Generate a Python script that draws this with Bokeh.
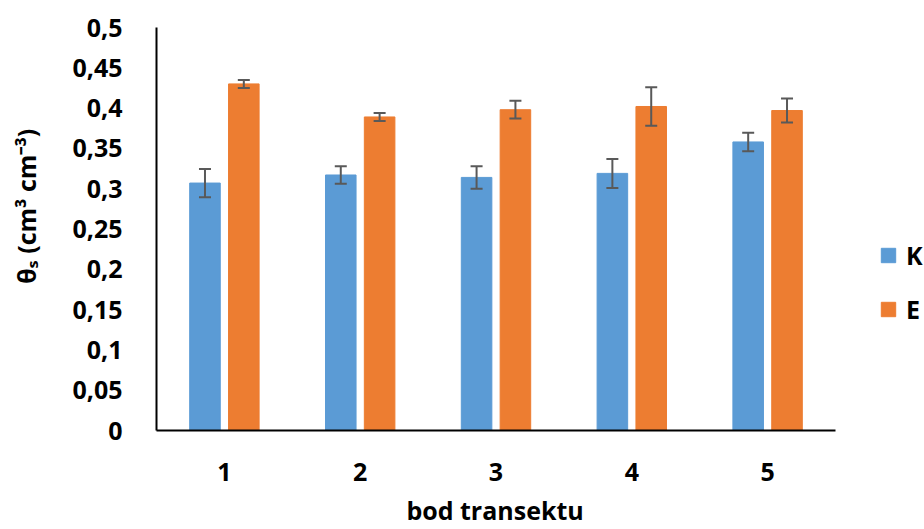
from bokeh.plotting import figure
from bokeh.models import (ColumnDataSource, Range1d, Whisker, TeeHead, Legend,
                          LegendItem, FixedTicker)
from bokeh.transform import dodge
from bokeh.embed import file_html
from bokeh.resources import INLINE

# ---- data ----
categories = ["1", "2", "3", "4", "5"]
series_names = ["K", "E"]
k_values = [0.307, 0.317, 0.314, 0.319, 0.358]
k_errors = [0.0175, 0.011, 0.014, 0.018, 0.0115]
e_values = [0.430, 0.389, 0.398, 0.402, 0.397]
e_errors = [0.005, 0.005, 0.011, 0.024, 0.015]
y_ticks = [0, 0.05, 0.1, 0.15, 0.2, 0.25, 0.3, 0.35, 0.4, 0.45, 0.5]
y_tick_labels = ["0", "0,05", "0,1", "0,15", "0,2", "0,25", "0,3", "0,35", "0,4", "0,45", "0,5"]
x_title = "bod transektu"
y_title = "θₛ (cm³ cm⁻³)"

K_COLOR = "#5B9BD5"
E_COLOR = "#ED7D31"
ERR_COLOR = "#595959"
FONT = "Open Sans"
FS = "25px"

positions = list(range(1, len(categories) + 1))
src = ColumnDataSource(dict(
    pos=positions,
    k=k_values,
    k_lo=[v - e for v, e in zip(k_values, k_errors)],
    k_hi=[v + e for v, e in zip(k_values, k_errors)],
    e=e_values,
    e_lo=[v - e for v, e in zip(e_values, e_errors)],
    e_hi=[v + e for v, e in zip(e_values, e_errors)],
))

# layout: frame from x=156 to canvas edge; categories occupy 135.8 px each
LEFT, TOP, BOTTOM = 156, 27, 99
W_FIG, H_FIG = 924, 529
CAT_PX = 135.8
frame_w = W_FIG - LEFT
x_start = 0.5
x_end = x_start + frame_w / CAT_PX

p = figure(x_range=Range1d(x_start, x_end), y_range=Range1d(0, 0.5),
           width=W_FIG, height=H_FIG, output_backend="svg", toolbar_location=None,
           min_border_left=LEFT, min_border_right=0, min_border_top=TOP,
           min_border_bottom=BOTTOM)
p.outline_line_color = None
p.xgrid.grid_line_color = None
p.ygrid.grid_line_color = None
p.background_fill_color = "white"
p.border_fill_color = "white"

OFF = 0.143
W = 0.225
rk = p.vbar(x=dodge("pos", -OFF), top="k", width=W, source=src,
            fill_color=K_COLOR, line_color=K_COLOR)
re_ = p.vbar(x=dodge("pos", OFF), top="e", width=W, source=src,
             fill_color=E_COLOR, line_color=E_COLOR)

for off, lo, hi in [(-OFF, "k_lo", "k_hi"), (OFF, "e_lo", "e_hi")]:
    w = Whisker(base=dodge("pos", off), lower=lo, upper=hi, source=src,
                line_color=ERR_COLOR, line_width=2, level="overlay",
                upper_head=TeeHead(size=12, line_color=ERR_COLOR, line_width=2),
                lower_head=TeeHead(size=12, line_color=ERR_COLOR, line_width=2))
    p.add_layout(w)

# axes
p.yaxis.ticker = FixedTicker(ticks=y_ticks)
p.yaxis.major_label_overrides = dict(zip(y_ticks, y_tick_labels))
p.xaxis.ticker = FixedTicker(ticks=positions)
p.xaxis.major_label_overrides = dict(zip(positions, categories))
p.xaxis.bounds = (x_start, len(categories) + 0.5)
for ax in (p.xaxis, p.yaxis):
    ax.axis_line_color = "black"
    ax.axis_line_width = 2
    ax.major_tick_line_color = None
    ax.minor_tick_line_color = None
    ax.major_label_text_font = FONT
    ax.major_label_text_font_style = "bold"
    ax.major_label_text_font_size = FS
    ax.major_label_text_color = "black"
    ax.axis_label_text_font = FONT
    ax.axis_label_text_font_style = "bold"
    ax.axis_label_text_font_size = FS
    ax.axis_label_text_color = "black"
p.yaxis.major_label_standoff = 28
p.xaxis.major_label_standoff = 26
# trailing non-breaking spaces centre the title under the category axis
p.xaxis.axis_label = x_title + "\u00a0" * 14
p.xaxis.axis_label_standoff = 9
p.yaxis.axis_label = "\u00a0" * 7 + y_title
p.yaxis.axis_label_standoff = 26

legend = Legend(items=[LegendItem(label=series_names[0], renderers=[rk]),
                       LegendItem(label=series_names[1], renderers=[re_])],
                location=(879 - LEFT, 104), orientation="vertical",
                glyph_width=18, glyph_height=18, label_height=30, spacing=20,
                padding=0, margin=0, label_standoff=9,
                border_line_alpha=0, background_fill_alpha=0,
                label_text_font=FONT, label_text_font_style="bold",
                label_text_font_size=FS, label_text_color="black")
p.add_layout(legend, "center")

open("out.html", "w").write(file_html(p, INLINE))
